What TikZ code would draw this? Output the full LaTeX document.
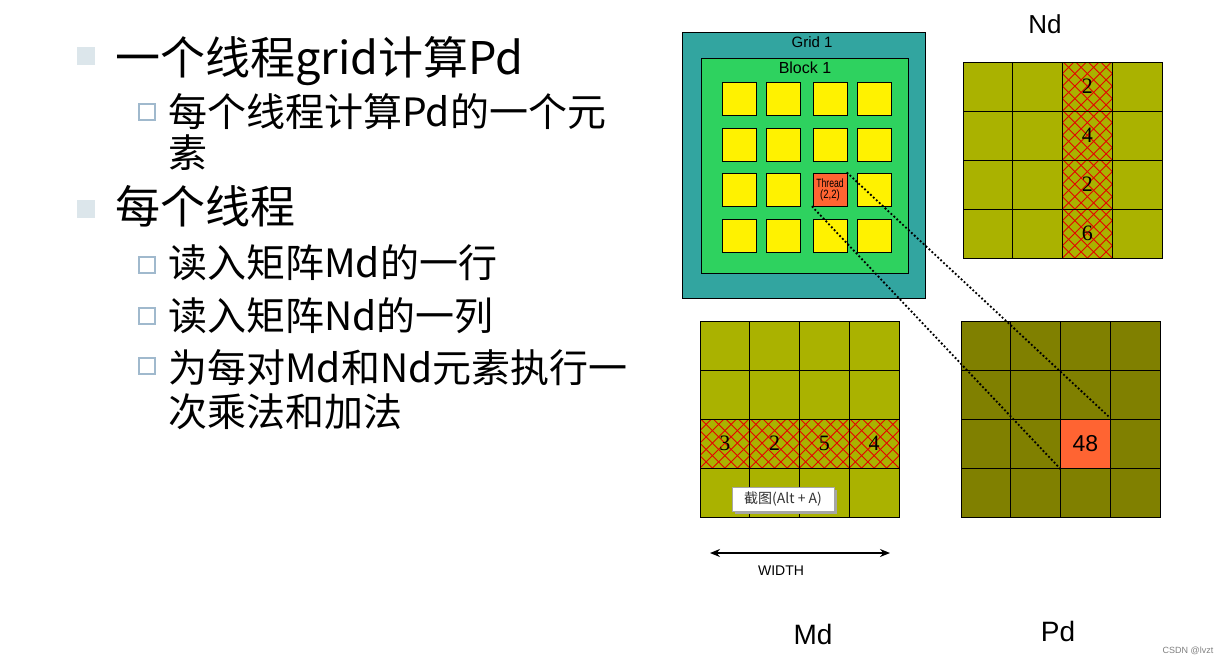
\documentclass[tikz,border=0pt]{standalone}
\usepackage{fontspec}
\setmainfont{Liberation Sans}
\newfontfamily\cjk{Noto Sans CJK SC}
\newfontfamily\serifnum{Liberation Serif}
\usetikzlibrary{arrows.meta,shadows}
\definecolor{teal1}{RGB}{50,165,160}
\definecolor{green1}{RGB}{46,210,95}
\definecolor{orng}{RGB}{255,100,50}
\definecolor{olive1}{RGB}{170,178,0}
\definecolor{olive2}{RGB}{128,128,0}
\definecolor{bul1}{RGB}{220,230,235}
\definecolor{bul2}{RGB}{160,185,205}
\tikzset{
  lvone/.style={anchor=base west, inner sep=0pt, font=\cjk\fontsize{45}{50}\selectfont},
  lvtwo/.style={anchor=base west, inner sep=0pt, font=\cjk\fontsize{39}{44}\selectfont},
  bulone/.style={fill=bul1, minimum size=18pt, inner sep=0pt},
  bultwo/.style={draw=bul2, line width=2.2pt, fill=white, minimum size=16pt, inner sep=0pt},
  thr/.style={draw=black, line width=0.9pt, fill=yellow, minimum width=34pt, minimum height=33pt, inner sep=0pt},
  cellbase/.style={draw=black, line width=1pt, minimum width=49.75pt, minimum height=49pt, inner sep=0pt, font=\serifnum\fontsize{22}{22}\selectfont},
  ndcell/.style={cellbase, fill=olive1},
  mdcell/.style={cellbase, fill=olive1},
  pdcell/.style={cellbase, fill=olive2},
  hatchline/.style={red!90!black, line width=0.8pt},
  hatch/.style={path picture={
    \foreach \k in {-62.5,-50,...,62.5}{
      \draw[hatchline] ([xshift=\k pt]path picture bounding box.south west) -- ++(70pt,70pt);
      \draw[hatchline] ([xshift=\k pt]path picture bounding box.south east) -- ++(-70pt,70pt);
    }}},
  ndhatch/.style={ndcell, hatch},
  mdhatch/.style={mdcell, hatch},
  dotline/.style={line width=2.6pt, line cap=round, dash pattern=on 0pt off 4pt},
  lbl/.style={inner sep=0pt}
}
\begin{document}
\begin{tikzpicture}[x=1pt,y=-1pt]
\useasboundingbox (0,0) rectangle (1229,665);
\fill[white] (0,0) rectangle (1229,665);

% ---------- left text ----------
\node[bulone] (b1) at (85.5,56) {};
\node[lvone] (t1) at (115,74) {一个线程grid计算Pd};
\node[bultwo] (b2) at (147,112) {};
\node[lvtwo] (t2) at (168,126.5) {每个线程计算Pd的一个元};
\node[lvtwo] (t2b) at (168,167.5) {素};
\node[bulone] (b3) at (85.5,209) {};
\node[lvone] (t3) at (115,223.5) {每个线程};
\node[bultwo] (b4) at (147,265) {};
\node[lvtwo] (t4) at (168,277.5) {读入矩阵Md的一行};
\node[bultwo] (b5) at (147,316) {};
\node[lvtwo] (t5) at (168,330.5) {读入矩阵Nd的一列};
\node[bultwo] (b6) at (147,366) {};
\node[lvtwo] (t6) at (168,382.5) {为每对Md和Nd元素执行一};
\node[lvtwo] (t6b) at (168,426.5) {次乘法和加法};

% ---------- grid / block ----------
\node[draw=black, line width=1pt, fill=teal1, minimum width=243pt, minimum height=266pt, inner sep=0pt] (grid) at (803.5,165) {};
\node[lbl, font=\fontsize{15}{15}\selectfont] (gridlbl) at (812,42) {Grid 1};
\node[draw=black, line width=1pt, fill=green1, minimum width=207pt, minimum height=215pt, inner sep=0pt] (block) at (804.5,165.5) {};
\node[lbl, font=\fontsize{16}{16}\selectfont] (blocklbl) at (805,68) {Block 1};
\foreach \r/\y in {1/98.5,2/145,3/190,4/235.5}{
  \foreach \c/\x in {1/739,2/783,3/830,4/874}{
    \node[thr] (t-\r-\c) at (\x,\y) {};
  }
}
\node[thr, fill=orng, font=\fontsize{12}{11.5}\selectfont, align=center] (thread) at (830,190) {\scalebox{0.72}[1]{Thread}\\\scalebox{0.8}[1]{(2,2)}};

% ---------- Nd ----------
\node[lbl, font=\fontsize{26}{26}\selectfont] (ndlbl) at (1045,24) {Nd};
\foreach \r/\v in {1/2,2/4,3/2,4/6}{
  \foreach \c/\st in {1/ndcell,2/ndcell,3/ndhatch,4/ndcell}{
    \node[\st] (nd-\r-\c) at ({963+(\c-0.5)*49.75},{62+(\r-0.5)*49}) {\ifnum\c=3 \v\fi};
  }
}

% ---------- Md ----------
\foreach \r/\st in {1/mdcell,2/mdcell,3/mdhatch,4/mdcell}{
  \foreach \c/\v in {1/3,2/2,3/5,4/4}{
    \node[\st] (md-\r-\c) at ({700+(\c-0.5)*49.75},{321+(\r-0.5)*49}) {\ifnum\r=3 \v\fi};
  }
}
\node[draw=gray!70, fill=white, line width=0.8pt, minimum width=102pt, minimum height=24pt, inner sep=0pt,
      font=\cjk\fontsize{14}{14}\selectfont, text=black!80,
      drop shadow={shadow xshift=2.5pt, shadow yshift=-2.5pt, fill=gray!70, opacity=1}] (tip) at (783,499) {截图(Alt + A)};

% ---------- Pd ----------
\foreach \r in {1,2,3,4}{
  \foreach \c in {1,2,3,4}{
    \node[pdcell] (pd-\r-\c) at ({961+(\c-0.5)*49.75},{321+(\r-0.5)*49}) {};
  }
}
\node[cellbase, fill=orng, font=\fontsize{23}{23}\selectfont] (res) at (pd-3-3.center) {48};

% ---------- connectors ----------
\draw[dotline] (thread.north east) -- (res.north east);
\draw[dotline] (thread.south west) -- (res.south west);

% ---------- width arrow & labels ----------
\coordinate (wl) at (710,553);
\coordinate (wr) at (890,553);
\draw[line width=1.6pt, {Stealth[length=10pt,width=8pt]}-{Stealth[length=10pt,width=8pt]}] (wl) -- (wr);
\node[lbl, font=\fontsize{14}{14}\selectfont] (wlbl) at (781,571) {WIDTH};
\node[lbl, font=\fontsize{28}{28}\selectfont] (mdlbl) at (813,634) {Md};
\node[lbl, font=\fontsize{28}{28}\selectfont] (pdlbl) at (1058,631) {Pd};
\node[lbl, font=\fontsize{9}{9}\selectfont, text=gray] (wm) at (1188,651) {CSDN @lvzt};
\end{tikzpicture}
\end{document}
